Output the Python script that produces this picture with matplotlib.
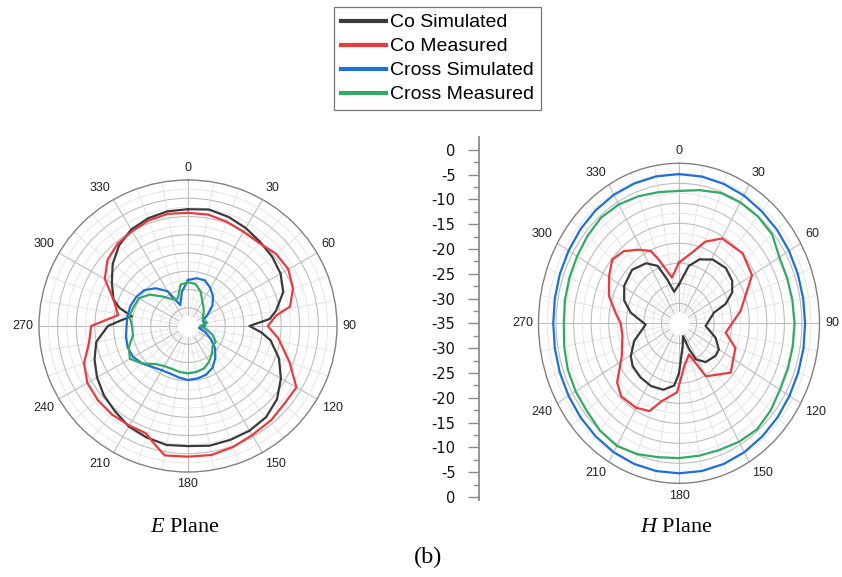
import numpy as np
import matplotlib.pyplot as plt
from matplotlib.lines import Line2D

plt.rcParams['font.family'] = ['Liberation Sans', 'DejaVu Sans']
plt.rcParams['mathtext.fontset'] = 'custom'
plt.rcParams['mathtext.it'] = 'Liberation Serif:italic'
plt.rcParams['mathtext.rm'] = 'Liberation Serif'

# ---- E plane (angle in deg, level in dB) ----
e_cosim_ang = [0, 10, 20, 30, 40, 50, 60, 70, 80, 85, 90, 95, 100, 110, 120, 130, 140, 150, 160, 170,
               180, 190, 200, 210, 220, 230, 240, 250, 260, 270, 275, 280, 285, 290, 300, 310, 320, 330, 340, 350]
e_cosim_db = [-8.0, -7.6, -8.2, -9.0, -9.9, -10.5, -11.3, -12.8, -16.0, -18.0, -23.5, -20.3, -17.5, -14.0,
              -11.2, -8.8, -7.4, -6.9, -6.8, -6.7, -7.1, -6.9, -7.5, -8.2, -9.5, -10.5, -11.8, -13.3, -15.0,
              -18.5, -22.0, -24.7, -21.0, -18.7, -16.4, -13.6, -11.2, -9.5, -8.6, -8.1]

e_comeas_ang = [0, 10, 20, 30, 40, 50, 60, 70, 79, 83, 90, 98, 110, 120, 129, 139, 150, 160, 170, 180,
                190, 196, 201, 210, 220, 230, 240, 250, 260, 270, 279, 289, 300, 310, 320, 330, 340, 350]
e_comeas_db = [-9.0, -9.0, -9.6, -10.2, -10.3, -9.2, -8.9, -10.0, -12.1, -16.1, -18.6, -15.5, -11.0, -6.4,
               -6.5, -5.9, -5.5, -4.7, -4.1, -4.2, -4.0, -6.6, -8.5, -8.5, -8.3, -8.4, -8.8, -10.3, -13.0,
               -14.0, -21.0, -19.0, -14.2, -11.8, -10.6, -10.0, -9.2, -8.8]

e_xsim_ang = [0, 10, 20, 30, 40, 50, 60, 70, 80, 90, 100, 110, 120, 130, 140, 150, 160, 170, 180,
              190, 200, 210, 220, 230, 240, 250, 260, 270, 280, 290, 300, 310, 320, 330, 340, 350]
e_xsim_db = [-27.4, -26.7, -26.7, -28.0, -29.5, -31.5, -34.0, -35.8, -35.5, -35.5, -37.0, -35.0, -33.0,
             -30.5, -28.6, -26.8, -25.8, -25.4, -25.2, -25.7, -26.1, -26.0, -25.3, -24.0, -23.0, -22.8,
             -23.1, -23.5, -23.5, -23.6, -24.0, -24.7, -26.5, -29.0, -33.9, -30.5]

e_xmeas_ang = e_xsim_ang
e_xmeas_db = [-28.0, -28.3, -30.0, -32.3, -33.5, -34.5, -35.5, -35.5, -34.8, -36.7, -35.0, -33.0, -31.4,
              -31.4, -30.0, -28.7, -27.6, -27.2, -27.0, -27.2, -27.5, -27.3, -26.4, -24.0, -22.0, -23.1,
              -25.0, -25.0, -24.0, -24.5, -24.8, -26.6, -29.5, -31.5, -32.0, -28.5]

# ---- H plane ----
h_cosim_ang = [0, 11, 20, 31, 44, 55, 63, 70, 75, 95, 109, 120, 128, 142, 152, 156, 160, 170, 175, 180,
               185, 195, 207, 219, 231, 239, 251, 262, 268, 281, 290, 301, 315, 328, 337, 343, 350]
h_cosim_db = [-30.3, -25.4, -23.0, -21.4, -20.8, -21.5, -23.0, -25.9, -29.7, -32.4, -29.0, -26.9, -26.8,
              -27.7, -29.8, -32.9, -36.6, -34.0, -32.0, -27.5, -24.4, -22.8, -22.4, -22.6, -23.0, -24.0,
              -26.5, -29.5, -30.5, -26.0, -23.4, -21.8, -21.1, -22.3, -24.4, -28.5, -32.0]

h_comeas_ang = [0, 12, 20, 30, 46, 60, 80, 100, 111, 130, 150, 160, 172, 178, 182, 194, 201, 210, 222,
                230, 243, 259, 270, 278, 289, 301, 310, 319, 328, 336, 340, 350]
h_comeas_db = [-24.8, -21.9, -18.3, -15.5, -14.8, -16.0, -22.2, -26.5, -22.8, -20.8, -24.7, -31.7, -29.2,
               -26.0, -22.7, -20.0, -16.5, -15.6, -15.4, -17.0, -21.7, -23.6, -23.4, -21.8, -18.9, -16.8,
               -15.2, -16.1, -18.3, -20.2, -23.0, -28.4]

h_xsim_ang = list(range(0, 360, 10))
h_xsim_db = [-2.7, -2.75, -2.9, -3.1, -3.4, -3.6, -3.8, -4.0, -4.1, -4.1, -4.0, -3.9, -3.7, -3.4, -3.1,
             -2.8, -2.6, -2.5, -2.5, -2.5, -2.6, -2.8, -3.1, -3.4, -3.7, -3.9, -4.1, -4.2, -4.1, -3.9,
             -3.7, -3.4, -3.1, -2.9, -2.8, -2.7]

h_xmeas_ang = h_xsim_ang
h_xmeas_db = [-6.9, -6.2, -5.3, -5.1, -5.1, -5.4, -7.0, -7.2, -7.2, -7.1, -7.1, -7.0, -6.8, -6.0, -5.4,
              -5.8, -6.3, -6.4, -6.3, -6.0, -5.2, -4.6, -5.0, -5.8, -6.0, -6.3, -6.8, -7.2, -7.0, -6.8,
              -6.5, -6.0, -5.5, -5.7, -6.2, -6.7]

names = ['Co Simulated', 'Co Measured', 'Cross Simulated', 'Cross Measured']
colors = ['#3a3a3a', '#ea3a3f', '#1f6fd8', '#34a865']

scale_labels = ['0', '-5', '-10', '-15', '-20', '-25', '-30', '-35',
                '-30', '-25', '-20', '-15', '-10', '-5', '0']

W, H = 842, 577
fig = plt.figure(figsize=(W / 100, H / 100), dpi=100)


def px_rect(cx, cy, rx, ry):
    return [(cx - rx) / W, (H - cy - ry) / H, 2 * rx / W, 2 * ry / H]


def polar_panel(rect, series):
    ax = fig.add_axes(rect, projection='polar')
    ax.set_aspect('auto')
    ax.set_theta_zero_location('N')
    ax.set_theta_direction(-1)
    ax.set_ylim(-40, 0)
    ax.set_xticks(np.deg2rad(np.arange(0, 360, 30)))
    ax.set_xticks(np.deg2rad(np.arange(0, 360, 10)), minor=True)
    ax.set_yticks(np.arange(-35, 0, 5))
    ax.set_yticks(np.arange(-37.5, 0, 2.5), minor=True)
    ax.set_xticklabels([])
    ax.set_yticklabels([])
    ax.tick_params(which='both', length=0)
    ax.grid(True, which='major', color='#bdbdbd', lw=0.8)
    ax.grid(True, which='minor', color='#e2e2e2', lw=0.6)
    ax.spines['polar'].set_color('#808080')
    ax.spines['polar'].set_linewidth(1.0)
    ring = np.linspace(0, 2 * np.pi, 200)
    ax.fill_between(ring, -40, -37.3, color='white', zorder=1.8)
    lines = []
    for (ang, db), c, name in zip(series, colors, names):
        a = np.deg2rad(np.r_[ang, ang[0] + 360])
        d = np.r_[db, db[0]]
        ln, = ax.plot(a, d, color=c, lw=1.6, label=name, zorder=3)
        lines.append(ln)
    for deg in range(0, 360, 30):
        t = np.deg2rad(deg)
        s, co = np.sin(t), np.cos(t)
        ha = 'left' if s > 0.1 else ('right' if s < -0.1 else 'center')
        va = 'bottom' if co > 0.1 else ('top' if co < -0.1 else 'center')
        ax.annotate(str(deg), xy=(t, 0), xytext=(4 * s, 4.5 * co), textcoords='offset points',
                    ha=ha, va=va, fontsize=9, color='#222222', annotation_clip=False)
    return lines


e_lines = polar_panel(px_rect(188, 326, 149, 146),
                      [(e_cosim_ang, e_cosim_db), (e_comeas_ang, e_comeas_db),
                       (e_xsim_ang, e_xsim_db), (e_xmeas_ang, e_xmeas_db)])
polar_panel(px_rect(679, 323.3, 140.5, 160),
            [(h_cosim_ang, h_cosim_db), (h_comeas_ang, h_comeas_db),
             (h_xsim_ang, h_xsim_db), (h_xmeas_ang, h_xmeas_db)])

# middle dB scale
sax = fig.add_axes([479 / W, 77 / H, 0.001, 363 / H])
pos = np.arange(len(scale_labels))
sax.set_ylim(14.12, -0.52)
sax.set_yticks(pos)
sax.set_yticklabels(scale_labels, family='DejaVu Sans', fontsize=10.5, color='#111111')
sax.set_yticks(pos[:-1] + 0.5, minor=True)
sax.set_xticks([])
for s in ['right', 'top', 'bottom']:
    sax.spines[s].set_visible(False)
sax.spines['left'].set_color('#8c8c8c')
sax.spines['left'].set_linewidth(1.3)
sax.tick_params(axis='y', which='major', length=8, width=1, color='#8c8c8c', pad=9)
sax.tick_params(axis='y', which='minor', length=4.3, width=1, color='#8c8c8c')
sax.patch.set_alpha(0)

# legend
leg = fig.legend(e_lines, names, loc='upper left', bbox_to_anchor=(334 / W, 1 - 7 / H),
                 frameon=True, fancybox=False, edgecolor='#555555', borderaxespad=0,
                 borderpad=0.35, handlelength=2.3, handletextpad=0.25, labelspacing=0.33,
                 prop={'family': 'Liberation Sans', 'size': 14})
leg.get_frame().set_linewidth(0.9)
for ln in leg.get_lines():
    ln.set_linewidth(3)

fig.text(185 / W, 1 - 527 / H, r'$E$ Plane', family='Liberation Serif', fontsize=16,
         ha='center', va='center')
fig.text(676 / W, 1 - 527 / H, r'$H$ Plane', family='Liberation Serif', fontsize=16,
         ha='center', va='center')
fig.text(428 / W, 1 - 557 / H, '(b)', family='Liberation Serif', fontsize=17.5,
         ha='center', va='center')

fig.savefig('out.png', dpi=100)
